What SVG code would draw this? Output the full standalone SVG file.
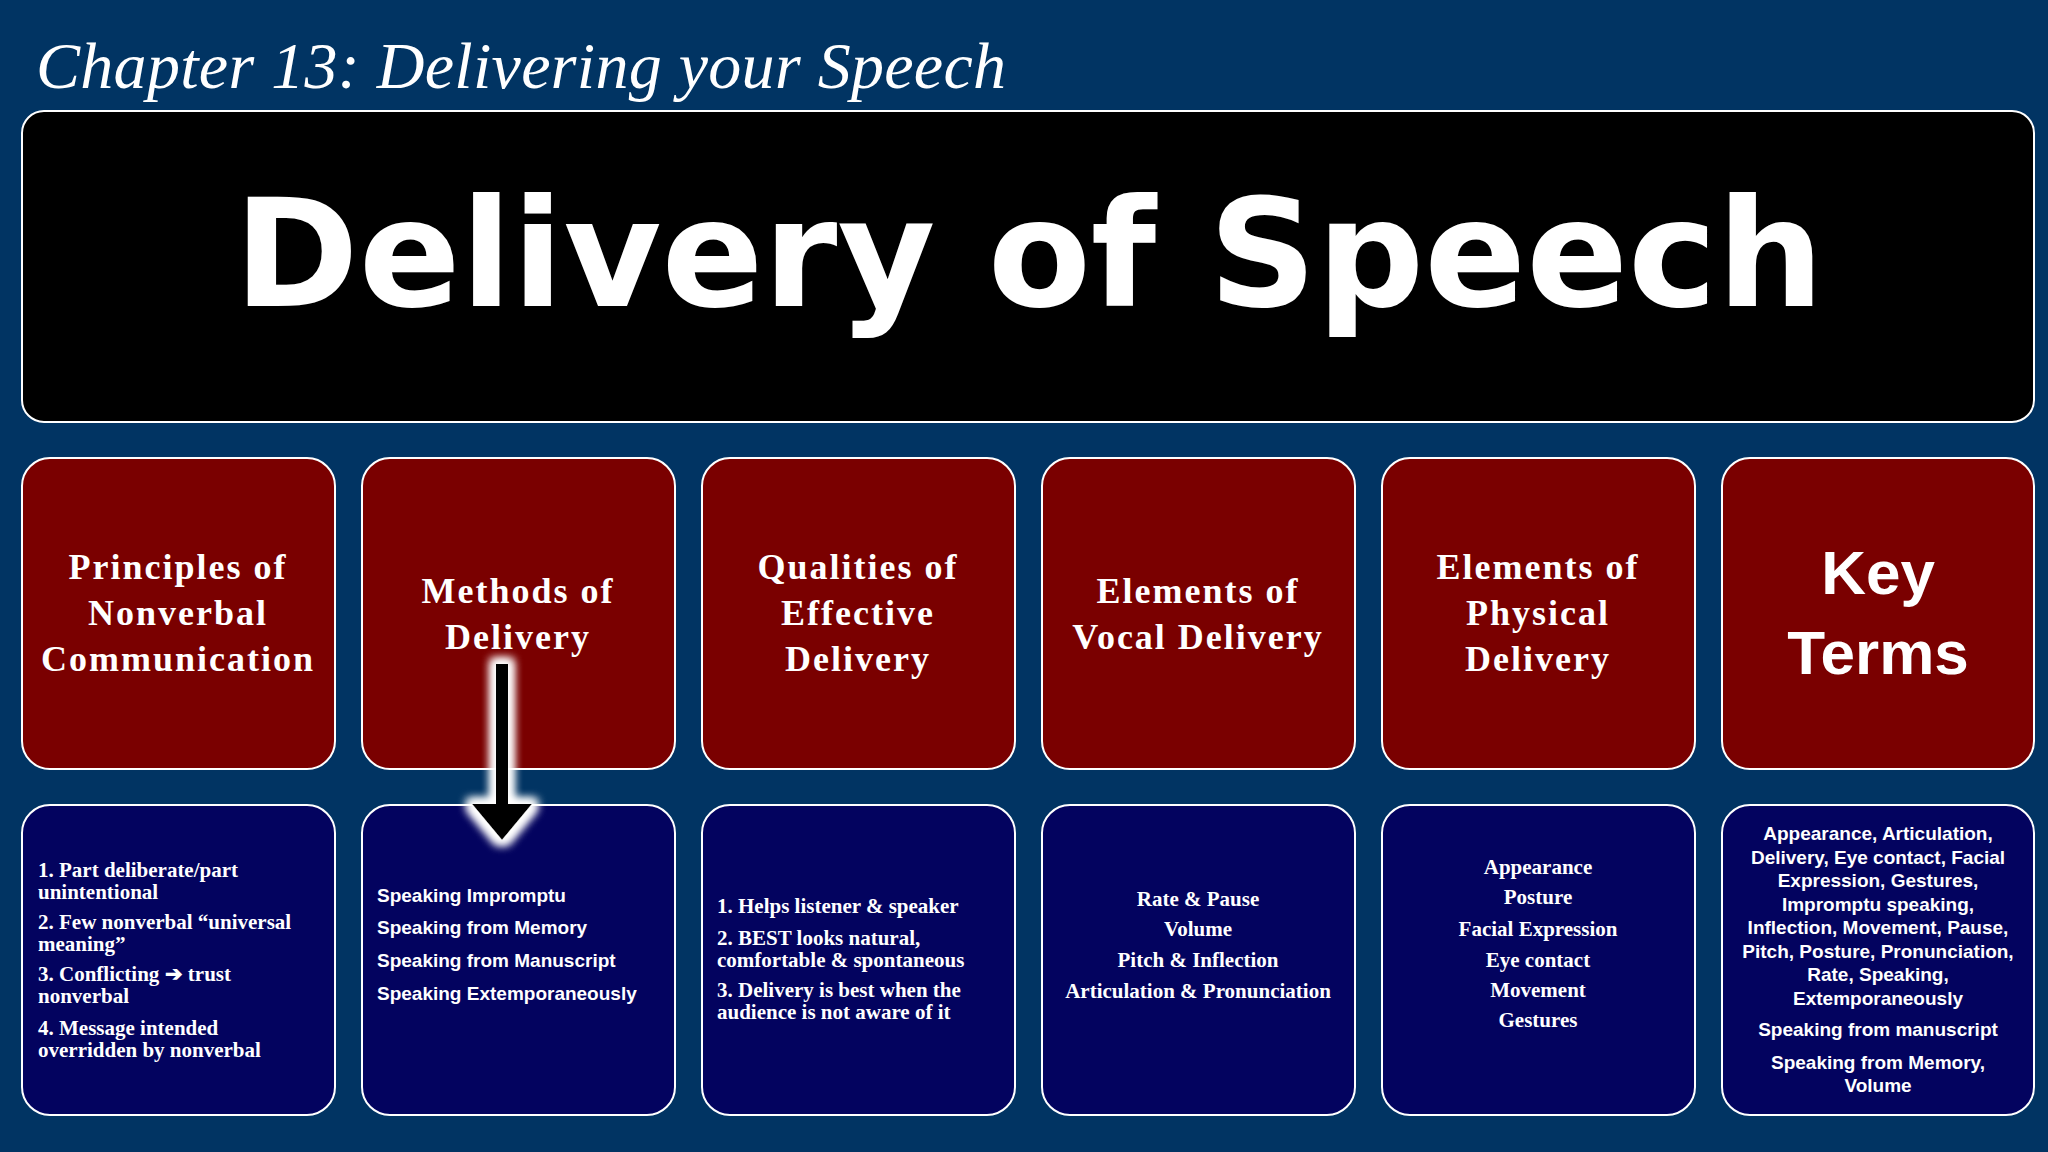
<svg xmlns="http://www.w3.org/2000/svg" width="2048" height="1152" viewBox="0 0 2048 1152">
<defs>
<style>
.red{fill:#7a0000;stroke:#fff;stroke-width:2}
.blue{fill:#03035f;stroke:#fff;stroke-width:2}
.h{font-family:"Liberation Serif",serif;font-weight:bold;font-size:36px;fill:#fff;text-anchor:middle;letter-spacing:2px}
.s{font-family:"Liberation Serif",serif;font-weight:bold;font-size:21px;fill:#fff}
.n{font-family:"Liberation Sans Narrow","Liberation Sans",sans-serif;font-weight:bold;font-size:19px;fill:#fff}
.c{text-anchor:middle}
</style>
<filter id="glow" x="-50%" y="-20%" width="200%" height="140%"><feMorphology operator="dilate" radius="5" in="SourceAlpha" result="d"/><feGaussianBlur in="d" stdDeviation="5" result="b"/><feFlood flood-color="#fff"/><feComposite in2="b" operator="in" result="g"/><feMerge><feMergeNode in="g"/><feMergeNode in="g"/><feMergeNode in="SourceGraphic"/></feMerge></filter>
</defs>
<rect width="2048" height="1152" fill="#013463"/>
<text x="36" y="88" font-family="Liberation Serif,serif" font-style="italic" font-size="66" fill="#fff" textLength="970">Chapter 13: Delivering your Speech</text>
<g id="title"><rect x="22" y="111" width="2012" height="311" rx="22" fill="#000" stroke="#fff" stroke-width="2"/>
<text x="1029" y="306" font-family="DejaVu Sans,sans-serif" font-weight="bold" font-size="150" fill="#fff" text-anchor="middle" textLength="1590" lengthAdjust="spacingAndGlyphs">Delivery of Speech</text></g>
<g id="h1"><rect class="red" x="22" y="458" width="313" height="311" rx="28"/><text class="h"><tspan x="178" y="579">Principles of</tspan><tspan x="178" y="625">Nonverbal</tspan><tspan x="178" y="671">Communication</tspan></text></g>
<g id="h2"><rect class="red" x="362" y="458" width="313" height="311" rx="28"/><text class="h"><tspan x="518" y="603">Methods of</tspan><tspan x="518" y="649">Delivery</tspan></text></g>
<g id="h3"><rect class="red" x="702" y="458" width="313" height="311" rx="28"/><text class="h"><tspan x="858" y="579">Qualities of</tspan><tspan x="858" y="625">Effective</tspan><tspan x="858" y="671">Delivery</tspan></text></g>
<g id="h4"><rect class="red" x="1042" y="458" width="313" height="311" rx="28"/><text class="h"><tspan x="1198" y="603">Elements of</tspan><tspan x="1198" y="649">Vocal Delivery</tspan></text></g>
<g id="h5"><rect class="red" x="1382" y="458" width="313" height="311" rx="28"/><text class="h"><tspan x="1538" y="579">Elements of</tspan><tspan x="1538" y="625">Physical</tspan><tspan x="1538" y="671">Delivery</tspan></text></g>
<g id="h6"><rect class="red" x="1722" y="458" width="312" height="311" rx="28"/><text font-family="Liberation Sans Narrow,Liberation Sans,sans-serif" font-weight="bold" font-size="62" fill="#fff" text-anchor="middle"><tspan x="1878" y="594">Key</tspan><tspan x="1878" y="674">Terms</tspan></text></g>
<g id="b1"><rect class="blue" x="22" y="805" width="313" height="310" rx="28"/><text class="s"><tspan x="38" y="877">1. Part deliberate/part</tspan><tspan x="38" y="899">unintentional</tspan><tspan x="38" y="929">2. Few nonverbal “universal</tspan><tspan x="38" y="951">meaning”</tspan><tspan x="38" y="981">3. Conflicting ➔ trust</tspan><tspan x="38" y="1003">nonverbal</tspan><tspan x="38" y="1035">4. Message intended</tspan><tspan x="38" y="1057">overridden by nonverbal</tspan></text></g>
<g id="b2"><rect class="blue" x="362" y="805" width="313" height="310" rx="28"/><text class="n"><tspan x="377" y="902">Speaking Impromptu</tspan><tspan x="377" y="934">Speaking from Memory</tspan><tspan x="377" y="967">Speaking from Manuscript</tspan><tspan x="377" y="1000">Speaking Extemporaneously</tspan></text></g>
<g id="b3"><rect class="blue" x="702" y="805" width="313" height="310" rx="28"/><text class="s"><tspan x="717" y="913">1. Helps listener &amp; speaker</tspan><tspan x="717" y="945">2. BEST looks natural,</tspan><tspan x="717" y="967">comfortable &amp; spontaneous</tspan><tspan x="717" y="997">3. Delivery is best when the</tspan><tspan x="717" y="1019">audience is not aware of it</tspan></text></g>
<g id="b4"><rect class="blue" x="1042" y="805" width="313" height="310" rx="28"/><text class="s c"><tspan x="1198" y="906">Rate &amp; Pause</tspan><tspan x="1198" y="936">Volume</tspan><tspan x="1198" y="967">Pitch &amp; Inflection</tspan><tspan x="1198" y="998">Articulation &amp; Pronunciation</tspan></text></g>
<g id="b5"><rect class="blue" x="1382" y="805" width="313" height="310" rx="28"/><text class="s c"><tspan x="1538" y="874">Appearance</tspan><tspan x="1538" y="904">Posture</tspan><tspan x="1538" y="936">Facial Expression</tspan><tspan x="1538" y="967">Eye contact</tspan><tspan x="1538" y="997">Movement</tspan><tspan x="1538" y="1027">Gestures</tspan></text></g>
<g id="b6"><rect class="blue" x="1722" y="805" width="312" height="310" rx="28"/><text class="n c"><tspan x="1878" y="840">Appearance, Articulation,</tspan><tspan x="1878" y="864">Delivery, Eye contact, Facial</tspan><tspan x="1878" y="887">Expression, Gestures,</tspan><tspan x="1878" y="911">Impromptu speaking,</tspan><tspan x="1878" y="934">Inflection, Movement, Pause,</tspan><tspan x="1878" y="958">Pitch, Posture, Pronunciation,</tspan><tspan x="1878" y="981">Rate, Speaking,</tspan><tspan x="1878" y="1005">Extemporaneously</tspan><tspan x="1878" y="1036">Speaking from manuscript</tspan><tspan x="1878" y="1069">Speaking from Memory,</tspan><tspan x="1878" y="1092">Volume</tspan></text></g>
<g id="connectors"><g filter="url(#glow)"><rect x="496" y="664" width="12" height="142" fill="#000"/><polygon points="472,804 532,804 502,840" fill="#000"/></g></g>
</svg>
